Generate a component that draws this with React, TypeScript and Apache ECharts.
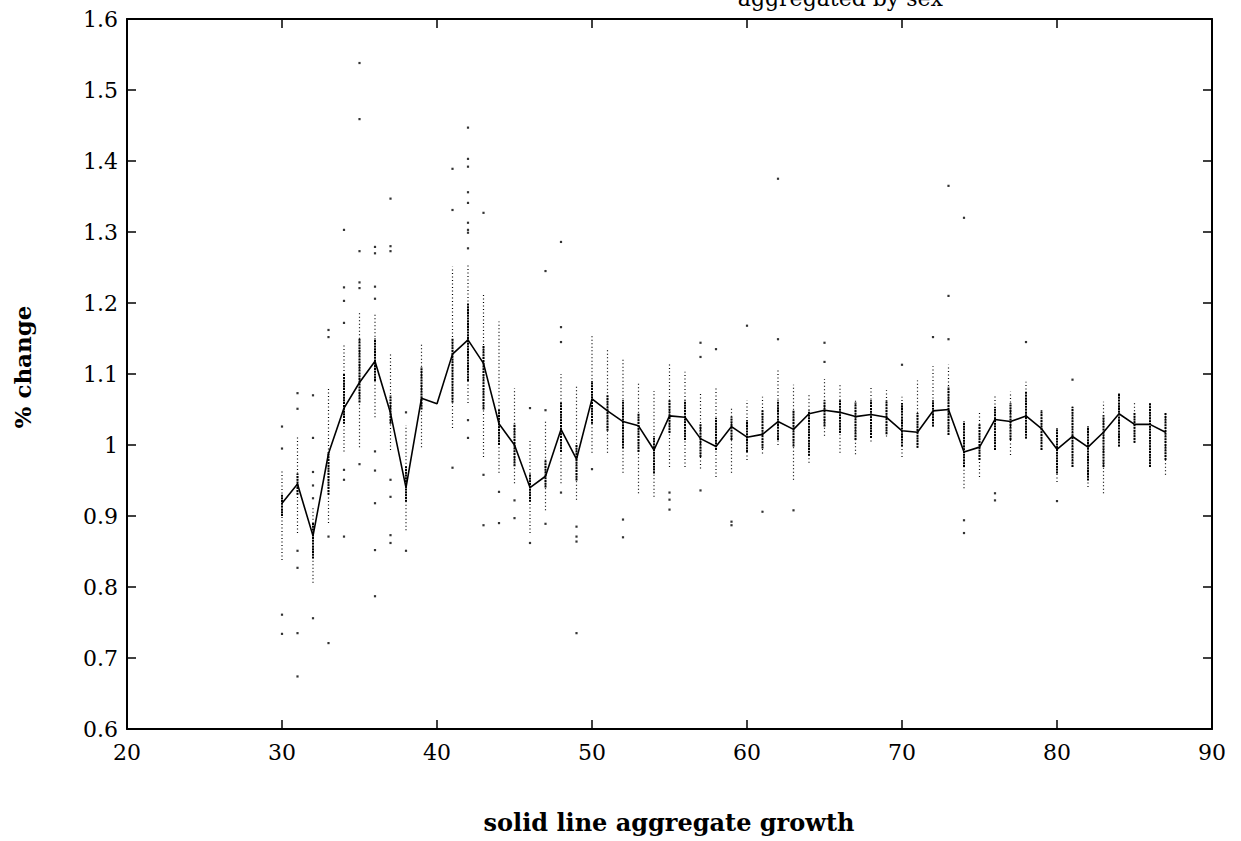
import React, { useEffect, useRef } from "react";
import * as echarts from "echarts";

const ages = [30,31,32,33,34,35,36,37,38,39,40,41,42,43,44,45,46,47,48,49,50,51,52,53,54,55,56,57,58,59,60,61,62,63,64,65,66,67,68,69,70,71,72,73,74,75,76,77,78,79,80,81,82,83,84,85,86,87];

const means = [0.918,0.945,0.872,0.988,1.052,1.088,1.118,1.045,0.940,1.066,1.058,1.128,1.148,1.115,1.030,1.000,0.940,0.956,1.022,0.980,1.065,1.048,1.033,1.027,0.993,1.041,1.039,1.009,0.998,1.026,1.011,1.015,1.033,1.022,1.044,1.049,1.046,1.040,1.043,1.039,1.020,1.018,1.048,1.050,0.990,0.997,1.036,1.033,1.041,1.023,0.994,1.012,0.997,1.018,1.044,1.029,1.029,1.018];

const outerLo = [0.838,0.876,0.806,0.890,0.991,0.997,1.039,0.993,0.880,0.997,null,1.024,1.059,0.983,0.961,0.946,0.876,0.908,0.946,0.923,0.989,0.989,0.961,0.932,0.927,0.969,0.969,0.967,0.955,0.961,0.979,0.988,1.000,0.951,0.975,1.013,0.989,0.987,1.005,1.012,0.983,0.996,1.026,1.014,0.939,0.955,0.993,0.986,1.009,0.993,0.948,0.969,0.941,0.932,0.998,1.003,0.969,0.958];
const outerHi = [0.965,1.014,0.913,1.082,1.141,1.186,1.186,1.130,1.028,1.144,null,1.251,1.256,1.214,1.174,1.080,1.007,1.033,1.100,1.082,1.153,1.136,1.121,1.089,1.076,1.115,1.103,1.073,1.082,1.054,1.063,1.068,1.108,1.085,1.070,1.093,1.085,1.066,1.082,1.077,1.068,1.091,1.111,1.113,1.033,1.045,1.070,1.075,1.089,1.049,1.024,1.054,1.026,1.061,1.073,1.061,1.059,1.045];

const coreLo = [0.90,0.93,0.84,0.93,1.03,1.06,1.09,1.03,0.92,1.05,null,1.06,1.09,1.05,1.00,0.97,0.92,0.94,0.99,0.95,1.03,1.02,0.995,0.99,0.96,1.017,1.007,0.983,0.993,1.007,0.99,0.995,1.007,0.998,0.985,1.026,1.017,1.007,1.01,1.015,0.998,0.996,1.026,1.014,0.969,0.979,0.993,1.007,1.009,0.993,0.96,0.969,0.95,0.969,0.998,1.003,0.969,0.979];
const coreHi = [0.93,0.96,0.89,0.99,1.10,1.15,1.15,1.07,0.97,1.11,null,1.15,1.20,1.14,1.05,1.03,0.96,0.98,1.06,1.00,1.09,1.07,1.063,1.045,1.012,1.063,1.063,1.03,1.038,1.040,1.035,1.049,1.063,1.049,1.049,1.063,1.063,1.06,1.063,1.063,1.059,1.045,1.063,1.082,1.033,1.03,1.054,1.059,1.075,1.049,1.024,1.054,1.026,1.042,1.073,1.045,1.059,1.045];

const outliers = [
  [1.026,0.995,0.761,0.734],
  [1.073,1.051,0.851,0.827,0.735,0.674],
  [1.070,1.010,0.962,0.943,0.925,0.756],
  [1.162,1.152,0.871,0.721],
  [1.303,1.222,1.203,1.172,0.965,0.951,0.871],
  [1.538,1.459,1.273,1.229,1.221,0.973],
  [1.279,1.270,1.223,1.206,0.991,0.964,0.918,0.852,0.787],
  [1.347,1.280,1.273,0.951,0.927,0.873,0.862],
  [1.046,0.851],
  [],
  [],
  [1.389,1.331,0.968],
  [1.447,1.403,1.392,1.356,1.341,1.313,1.303,1.299,1.277,1.035,1.010],
  [1.327,0.958,0.887],
  [0.934,0.890],
  [0.922,0.897],
  [1.052,0.862],
  [1.245,1.049,0.889],
  [1.286,1.166,1.145,0.933],
  [0.885,0.871,0.864,0.735],
  [0.966],
  [],
  [0.895,0.870],
  [],
  [],
  [0.933,0.923,0.909],
  [],
  [1.144,1.124,0.936],
  [1.135],
  [0.892,0.887],
  [1.168],
  [0.906],
  [1.375,1.149],
  [0.908],
  [],
  [1.144,1.117],
  [],
  [],
  [],
  [],
  [1.113],
  [],
  [1.152],
  [1.365,1.210,1.149],
  [1.320,0.894,0.876],
  [],
  [0.932,0.922],
  [],
  [1.145],
  [],
  [0.921],
  [1.092],
  [],
  [],
  [],
  [],
  [],
  [],
];

const xTicks = { min: 20, max: 90, interval: 10 };
const yTicks = { min: 0.6, max: 1.6, interval: 0.1 };
const xTitle = "solid line aggregate growth";
const yTitle = "% change";
const topTitle = "aggregated by sex";

const SERIF = "'DejaVu Serif', 'Liberation Serif', serif";

export default function App() {
  const ref = useRef<HTMLDivElement>(null);
  useEffect(() => {
    if (!ref.current) return;
    const chart = echarts.init(ref.current, null, { renderer: "svg" });

    const outerData: any[] = [];
    const coreData: any[] = [];
    const dotData: any[] = [];
    const lineData: any[] = [];
    ages.forEach((a, i) => {
      lineData.push([a, means[i]]);
      if (outerLo[i] != null) outerData.push([a, outerLo[i], outerHi[i]]);
      if (coreLo[i] != null) coreData.push([a, coreLo[i], coreHi[i]]);
      outliers[i].forEach((v) => dotData.push([a, v]));
    });

    const vLine = (style: any) => (params: any, api: any) => {
      const p1 = api.coord([api.value(0), api.value(1)]);
      const p2 = api.coord([api.value(0), api.value(2)]);
      return {
        type: "line",
        shape: { x1: p1[0], y1: p1[1], x2: p2[0], y2: p2[1] },
        style,
      };
    };

    const axisLine = { show: true, onZero: false, lineStyle: { color: "#000", width: 2 } };
    const axisTick = { show: true, inside: true, length: 9, lineStyle: { color: "#000", width: 1.5 } };

    chart.setOption({
      animation: false,
      backgroundColor: "#fff",
      grid: { left: 127, right: 29, top: 19, bottom: 112, containLabel: false },
      xAxis: [
        {
          type: "value", ...xTicks, position: "bottom",
          axisLine, axisTick,
          axisLabel: { color: "#000", fontFamily: SERIF, fontSize: 22, margin: 12 },
          splitLine: { show: false },
        },
        {
          type: "value", ...xTicks, position: "top",
          axisLine, axisTick, axisLabel: { show: false }, splitLine: { show: false },
        },
      ],
      yAxis: [
        {
          type: "value", ...yTicks, position: "left",
          axisLine, axisTick,
          axisLabel: {
            color: "#000", fontFamily: SERIF, fontSize: 22, margin: 9,
            formatter: (v: number) => String(Math.round(v * 10) / 10),
          },
          splitLine: { show: false },
        },
        {
          type: "value", ...yTicks, position: "right",
          axisLine, axisTick, axisLabel: { show: false }, splitLine: { show: false },
        },
      ],
      graphic: [
        {
          type: "text", x: 669, y: 822,
          style: { text: xTitle, font: `bold 24px ${SERIF}`, fill: "#000", textAlign: "center", textVerticalAlign: "middle" },
        },
        {
          type: "text", x: 22, y: 367, rotation: Math.PI / 2,
          style: { text: yTitle, font: `bold 23px ${SERIF}`, fill: "#000", textAlign: "center", textVerticalAlign: "middle" },
        },
        {
          type: "text", x: 943, y: 9,
          style: { text: topTitle, font: `22px ${SERIF}`, fill: "#000", textAlign: "right", textVerticalAlign: "bottom" },
        },
      ],
      series: [
        {
          type: "custom", data: outerData, encode: { x: 0, y: [1, 2] },
          renderItem: vLine({ stroke: "#000", lineWidth: 1.2, lineDash: [1, 2.5] }),
          silent: true, z: 1,
        },
        {
          type: "custom", data: coreData, encode: { x: 0, y: [1, 2] },
          renderItem: vLine({ stroke: "#000", lineWidth: 2, lineDash: [2, 0.8] }),
          silent: true, z: 2,
        },
        {
          type: "scatter", data: dotData, symbol: "rect", symbolSize: 2.2,
          itemStyle: { color: "#000" }, silent: true, z: 3,
        },
        {
          type: "line", data: lineData, showSymbol: false, symbol: "none",
          lineStyle: { color: "#000", width: 1.6 }, silent: true, z: 4,
        },
      ],
    });
    return () => chart.dispose();
  }, []);
  return <div ref={ref} style={{ width: 1241, height: 841, position: "absolute", left: 0, top: 0 }} />;
}
